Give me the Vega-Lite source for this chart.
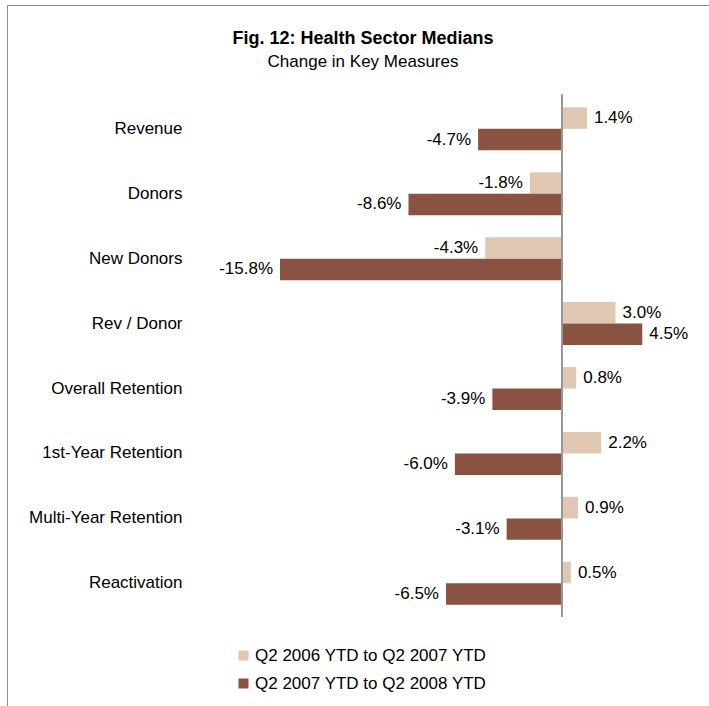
{
  "$schema": "https://vega.github.io/schema/vega-lite/v6.json",
  "width": 702,
  "height": 702,
  "autosize": {"type": "none"},
  "padding": {"left": 7, "top": 5, "right": 0, "bottom": 0},
  "background": "white",
  "config": {
    "view": {"stroke": "#8c8c8c", "strokeWidth": 1},
    "font": "Liberation Sans"
  },
  "title": {
    "text": "Fig. 12:  Health Sector Medians",
    "subtitle": "Change in Key Measures",
    "anchor": "middle",
    "orient": "top",
    "frame": "group",
    "offset": -65,
    "fontSize": 18,
    "fontWeight": "bold",
    "color": "black",
    "subtitleFontSize": 17,
    "subtitleColor": "black",
    "subtitlePadding": 6,
    "dx": 5
  },
  "data": {
    "values": [
      {"measure": "Revenue", "period": "Q2 2006 YTD to Q2 2007 YTD", "value": 1.4, "label": "1.4%"},
      {"measure": "Revenue", "period": "Q2 2007 YTD to Q2 2008 YTD", "value": -4.7, "label": "-4.7%"},
      {"measure": "Donors", "period": "Q2 2006 YTD to Q2 2007 YTD", "value": -1.8, "label": "-1.8%"},
      {"measure": "Donors", "period": "Q2 2007 YTD to Q2 2008 YTD", "value": -8.6, "label": "-8.6%"},
      {"measure": "New  Donors", "period": "Q2 2006 YTD to Q2 2007 YTD", "value": -4.3, "label": "-4.3%"},
      {"measure": "New  Donors", "period": "Q2 2007 YTD to Q2 2008 YTD", "value": -15.8, "label": "-15.8%"},
      {"measure": "Rev / Donor", "period": "Q2 2006 YTD to Q2 2007 YTD", "value": 3.0, "label": "3.0%"},
      {"measure": "Rev / Donor", "period": "Q2 2007 YTD to Q2 2008 YTD", "value": 4.5, "label": "4.5%"},
      {"measure": "Overall Retention", "period": "Q2 2006 YTD to Q2 2007 YTD", "value": 0.8, "label": "0.8%"},
      {"measure": "Overall Retention", "period": "Q2 2007 YTD to Q2 2008 YTD", "value": -3.9, "label": "-3.9%"},
      {"measure": "1st-Year Retention", "period": "Q2 2006 YTD to Q2 2007 YTD", "value": 2.2, "label": "2.2%"},
      {"measure": "1st-Year Retention", "period": "Q2 2007 YTD to Q2 2008 YTD", "value": -6.0, "label": "-6.0%"},
      {"measure": "Multi-Year Retention", "period": "Q2 2006 YTD to Q2 2007 YTD", "value": 0.9, "label": "0.9%"},
      {"measure": "Multi-Year Retention", "period": "Q2 2007 YTD to Q2 2008 YTD", "value": -3.1, "label": "-3.1%"},
      {"measure": "Reactivation", "period": "Q2 2006 YTD to Q2 2007 YTD", "value": 0.5, "label": "0.5%"},
      {"measure": "Reactivation", "period": "Q2 2007 YTD to Q2 2008 YTD", "value": -6.5, "label": "-6.5%"}
    ]
  },
  "resolve": {"scale": {"y": "shared", "x": "shared"}},
  "layer": [
    {
      "mark": {"type": "bar"},
      "encoding": {
        "x": {"field": "value", "type": "quantitative", "axis": null,
              "scale": {"domain": [-31.1, 8.24], "nice": false, "zero": false}},
        "y": {"field": "measure", "type": "nominal", "sort": null,
              "scale": {"domain": ["Revenue", "Donors", "New  Donors", "Rev / Donor", "Overall Retention", "1st-Year Retention", "Multi-Year Retention", "Reactivation"],
                        "range": [102.3, 599.8], "paddingInner": 0.338, "paddingOuter": 0},
              "axis": {"title": null, "orient": "left", "offset": -175, "domain": false, "ticks": false, "tickSize": 0,
                       "labelPadding": 0, "labelFontSize": 17, "labelColor": "black", "grid": false}},
        "yOffset": {"field": "period", "type": "nominal", "sort": null,
                    "scale": {"paddingInner": 0, "paddingOuter": 0}},
        "color": {"field": "period", "type": "nominal", "sort": null,
                  "scale": {"domain": ["Q2 2006 YTD to Q2 2007 YTD", "Q2 2007 YTD to Q2 2008 YTD"], "range": ["#dfc7b2", "#8a5241"]},
                  "legend": {"title": null, "orient": "none", "legendX": 228, "legendY": 642, "direction": "vertical",
                             "symbolType": "square", "symbolSize": 100, "symbolStrokeWidth": 0,
                             "labelFontSize": 17, "labelColor": "black", "labelOffset": 3, "rowPadding": 10, "labelLimit": 400}}
      }
    },
    {
      "mark": {"type": "rule", "color": "#999999", "strokeWidth": 1, "yOffset": -34, "y2Offset": 33},
      "encoding": {
        "x": {"datum": 0, "type": "quantitative"},
        "y": {"datum": "Revenue", "type": "nominal"},
        "y2": {"datum": "Reactivation"}
      }
    },
    {
      "transform": [{"filter": "datum.value >= 0"}],
      "mark": {"type": "text", "align": "left", "baseline": "middle", "dx": 7, "fontSize": 17, "color": "black"},
      "encoding": {
        "x": {"field": "value", "type": "quantitative"},
        "y": {"field": "measure", "type": "nominal", "sort": null},
        "yOffset": {"field": "period", "type": "nominal", "sort": null},
        "text": {"field": "label"}
      }
    },
    {
      "transform": [{"filter": "datum.value < 0"}],
      "mark": {"type": "text", "align": "right", "baseline": "middle", "dx": -7, "fontSize": 17, "color": "black"},
      "encoding": {
        "x": {"field": "value", "type": "quantitative"},
        "y": {"field": "measure", "type": "nominal", "sort": null},
        "yOffset": {"field": "period", "type": "nominal", "sort": null},
        "text": {"field": "label"}
      }
    }
  ]
}
